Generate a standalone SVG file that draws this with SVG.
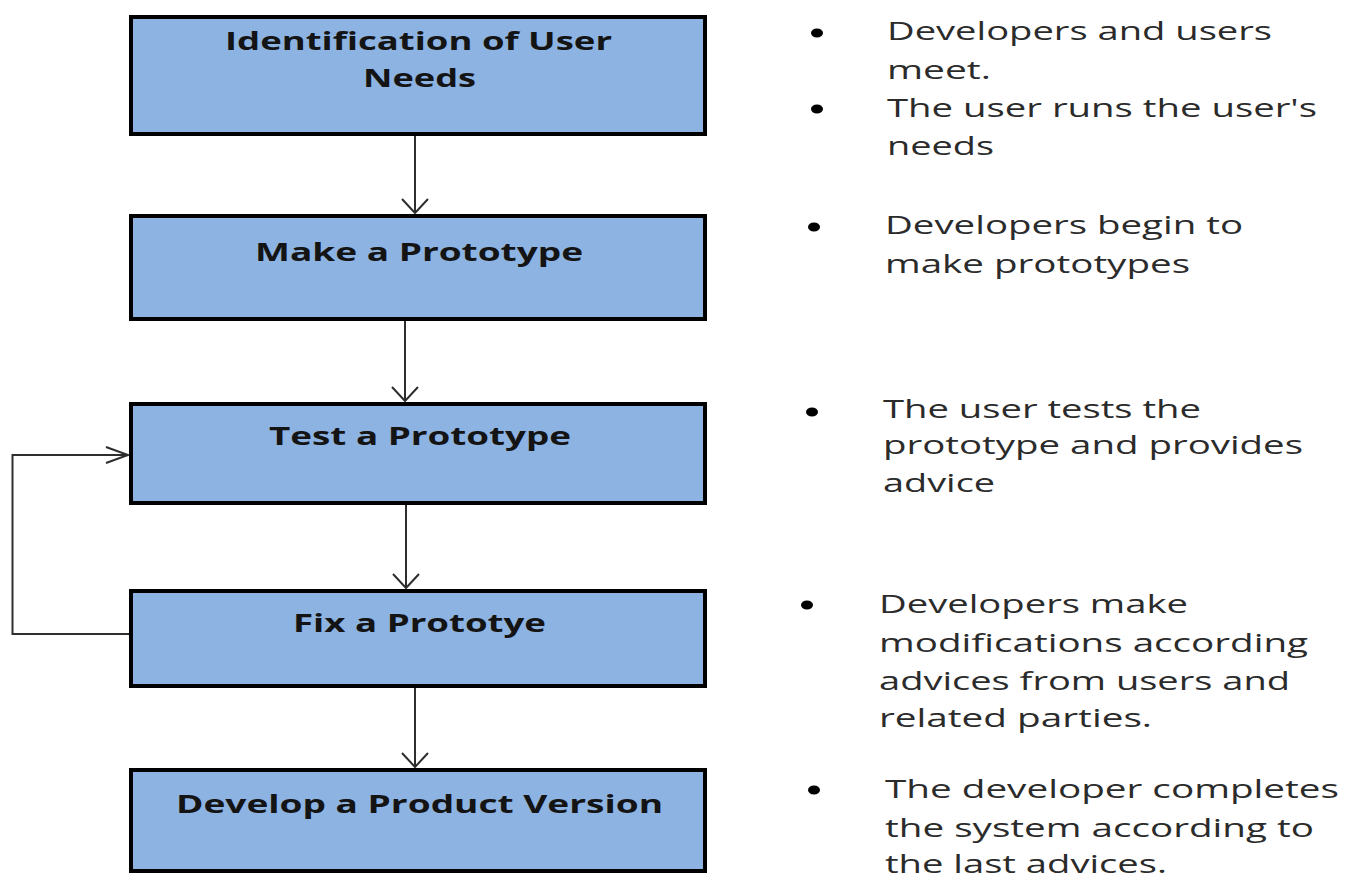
<svg xmlns="http://www.w3.org/2000/svg" xmlns:xlink="http://www.w3.org/1999/xlink" width="1351" height="876" viewBox="0 0 1351 876">
  <style>
    .box { fill: #8db3e2; stroke: #000; stroke-width: 4; }
    .label { font-family: "Open Sans", "Liberation Sans", sans-serif; font-weight: bold; font-size: 25px; fill: #141414; }
    .note { font-family: "Open Sans", "Liberation Sans", sans-serif; font-size: 25px; fill: #2b2b2b; }
    .bullet { fill: #000; }
    .wire { fill: none; stroke: #2e2e2e; stroke-width: 2; }
  </style>
  <defs>
    <path id="head-down" class="wire" d="M-13,-14 L0,0 L13,-14"/>
    <path id="head-right" class="wire" d="M-22,-8 L0,0 L-22,8"/>
  </defs>
  <rect width="1351" height="876" fill="#fff"/>

  <!-- connectors -->
  <g id="connectors">
    <line class="wire" x1="415" y1="136" x2="415" y2="213"/>
    <use xlink:href="#head-down" x="415" y="213"/>
    <line class="wire" x1="405" y1="321" x2="405" y2="401"/>
    <use xlink:href="#head-down" x="405" y="401"/>
    <line class="wire" x1="406" y1="505" x2="406" y2="588"/>
    <use xlink:href="#head-down" x="406" y="588"/>
    <line class="wire" x1="415" y1="688" x2="415" y2="767"/>
    <use xlink:href="#head-down" x="415" y="767"/>
    <polyline class="wire" points="129,634 12.5,634 12.5,455 128,455"/>
    <use xlink:href="#head-right" x="128" y="455"/>
  </g>

  <!-- process steps -->
  <g id="step-identify">
    <rect class="box" x="131" y="17" width="574" height="117"/>
    <text class="label" x="225" y="50" textLength="387" lengthAdjust="spacingAndGlyphs">Identification of User</text>
    <text class="label" x="363" y="87" textLength="113" lengthAdjust="spacingAndGlyphs">Needs</text>
  </g>
  <g id="step-make">
    <rect class="box" x="131" y="216" width="574" height="103"/>
    <text class="label" x="255" y="261" textLength="328" lengthAdjust="spacingAndGlyphs">Make a Prototype</text>
  </g>
  <g id="step-test">
    <rect class="box" x="131" y="404" width="574" height="99"/>
    <text class="label" x="269" y="445" textLength="302" lengthAdjust="spacingAndGlyphs">Test a Prototype</text>
  </g>
  <g id="step-fix">
    <rect class="box" x="131" y="591" width="574" height="95"/>
    <text class="label" x="293" y="632" textLength="253" lengthAdjust="spacingAndGlyphs">Fix a Prototye</text>
  </g>
  <g id="step-develop">
    <rect class="box" x="131" y="770" width="574" height="101"/>
    <text class="label" x="176" y="813" textLength="487" lengthAdjust="spacingAndGlyphs">Develop a Product Version</text>
  </g>

  <!-- notes beside each step -->
  <g id="notes-identify">
    <ellipse class="bullet" cx="817" cy="33" rx="6" ry="4.5"/>
    <text class="note" x="887" y="40" textLength="385" lengthAdjust="spacingAndGlyphs">Developers and users</text>
    <text class="note" x="887" y="79" textLength="104" lengthAdjust="spacingAndGlyphs">meet.</text>
    <ellipse class="bullet" cx="817" cy="109" rx="6" ry="4.5"/>
    <text class="note" x="887" y="117" textLength="430" lengthAdjust="spacingAndGlyphs">The user runs the user's</text>
    <text class="note" x="887" y="155" textLength="107" lengthAdjust="spacingAndGlyphs">needs</text>
  </g>
  <g id="notes-make">
    <ellipse class="bullet" cx="814" cy="227" rx="6" ry="4.5"/>
    <text class="note" x="885" y="234" textLength="358" lengthAdjust="spacingAndGlyphs">Developers begin to</text>
    <text class="note" x="885" y="273" textLength="305" lengthAdjust="spacingAndGlyphs">make prototypes</text>
  </g>
  <g id="notes-test">
    <ellipse class="bullet" cx="812" cy="412" rx="6" ry="4.5"/>
    <text class="note" x="883" y="418" textLength="318" lengthAdjust="spacingAndGlyphs">The user tests the</text>
    <text class="note" x="883" y="454" textLength="420" lengthAdjust="spacingAndGlyphs">prototype and provides</text>
    <text class="note" x="883" y="492" textLength="112" lengthAdjust="spacingAndGlyphs">advice</text>
  </g>
  <g id="notes-fix">
    <ellipse class="bullet" cx="807" cy="605" rx="6" ry="4.5"/>
    <text class="note" x="879" y="613" textLength="309" lengthAdjust="spacingAndGlyphs">Developers make</text>
    <text class="note" x="879" y="652" textLength="429" lengthAdjust="spacingAndGlyphs">modifications according</text>
    <text class="note" x="879" y="690" textLength="411" lengthAdjust="spacingAndGlyphs">advices from users and</text>
    <text class="note" x="879" y="727" textLength="273" lengthAdjust="spacingAndGlyphs">related parties.</text>
  </g>
  <g id="notes-develop">
    <ellipse class="bullet" cx="814" cy="790" rx="6" ry="4.5"/>
    <text class="note" x="885" y="798" textLength="454" lengthAdjust="spacingAndGlyphs">The developer completes</text>
    <text class="note" x="885" y="837" textLength="429" lengthAdjust="spacingAndGlyphs">the system according to</text>
    <text class="note" x="885" y="873" textLength="282" lengthAdjust="spacingAndGlyphs">the last advices.</text>
  </g>
</svg>
